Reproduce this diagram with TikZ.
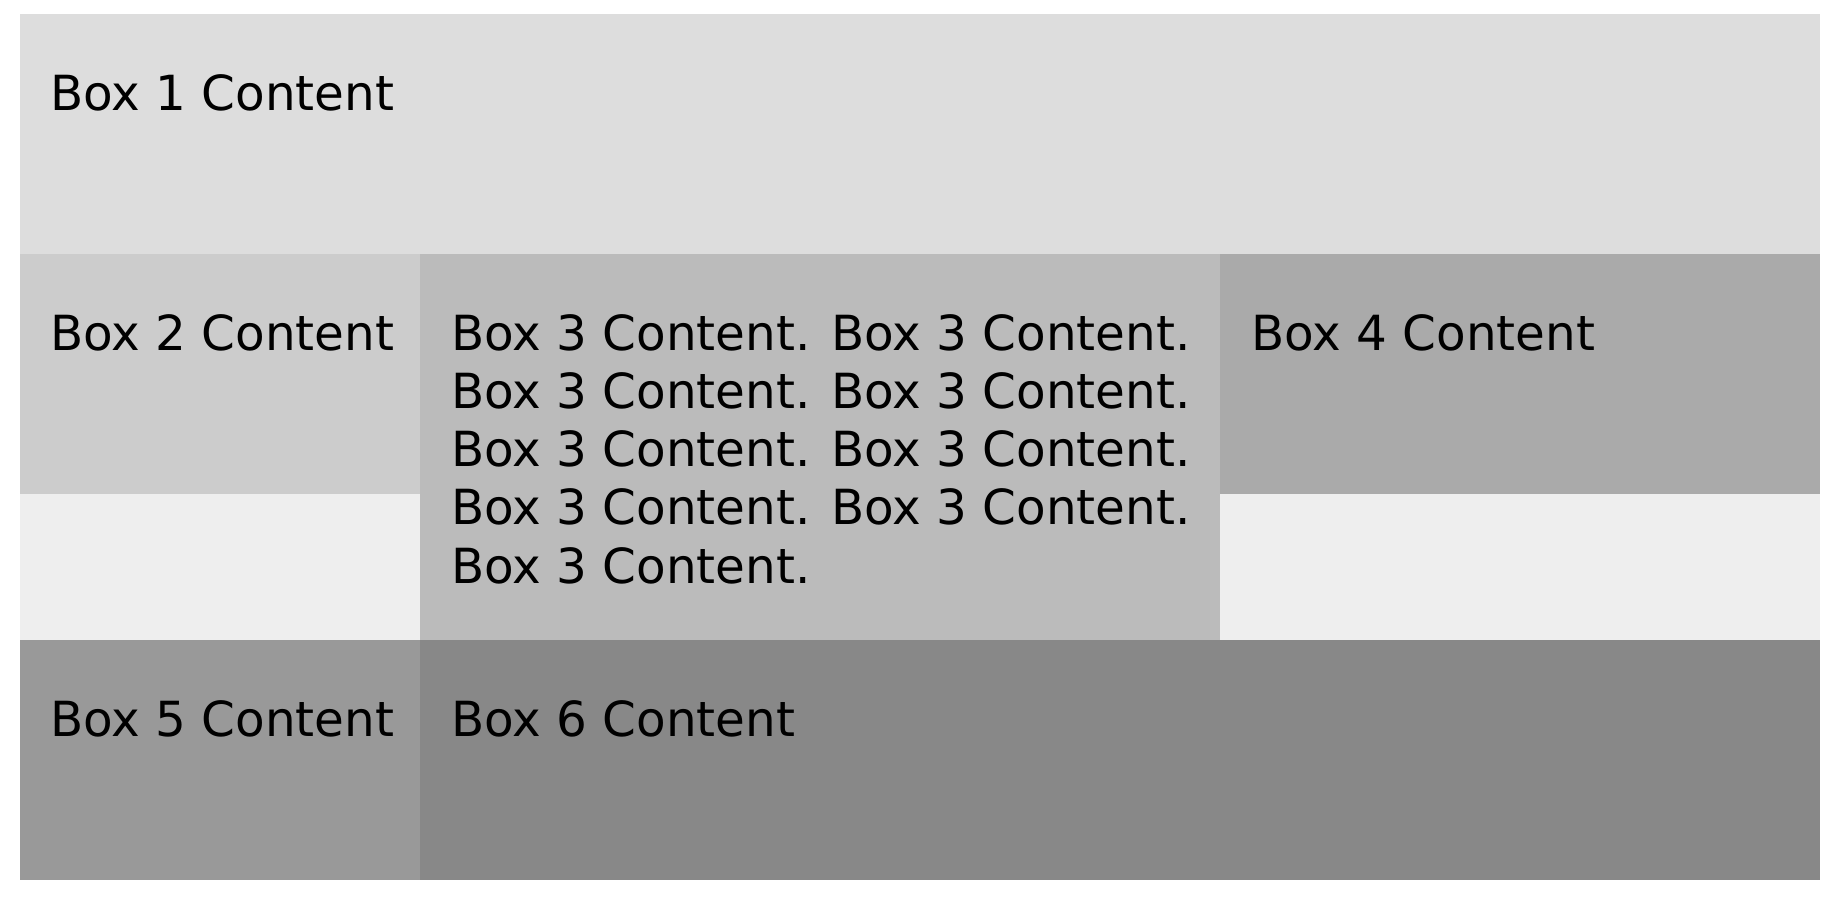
\documentclass[tikz,border=0pt]{standalone}
\usepackage{fontspec}
\setmainfont{DejaVu Sans}
\definecolor{cA}{HTML}{DDDDDD}
\definecolor{cB}{HTML}{CCCCCC}
\definecolor{cC}{HTML}{BBBBBB}
\definecolor{cD}{HTML}{AAAAAA}
\definecolor{cE}{HTML}{999999}
\definecolor{cF}{HTML}{888888}
\definecolor{cG}{HTML}{EEEEEE}
\begin{document}
\begin{tikzpicture}[x=0.5pt,y=-0.5pt,
  boxtext/.style={anchor=base west,inner sep=0pt,text=black,font=\fontsize{24.2}{29.15}\selectfont}]
\useasboundingbox[fill=white] (0,0) rectangle (1844,902);
% grid background
\fill[cG] (20,254) rectangle (1820,640);
% boxes
\fill[cA] (20,14) rectangle (1820,254);
\fill[cB] (20,254) rectangle (420,494);
\fill[cC] (420,254) rectangle (1220,640);
\fill[cD] (1220,254) rectangle (1820,494);
\fill[cE] (20,640) rectangle (420,880);
\fill[cF] (420,640) rectangle (1820,880);
% texts
\node[boxtext] (t1) at (50,110) {Box 1 Content};
\node[boxtext] (t2) at (50,350) {Box 2 Content};
\node[boxtext] (t3) at (451,350) {\parbox[t]{385pt}{\raggedright\fontsize{24.2}{29.15}\selectfont
Box 3 Content. Box 3 Content.\\
Box 3 Content. Box 3 Content.\\
Box 3 Content. Box 3 Content.\\
Box 3 Content. Box 3 Content.\\
Box 3 Content.}};
\node[boxtext] (t4) at (1251,350) {Box 4 Content};
\node[boxtext] (t5) at (50,736) {Box 5 Content};
\node[boxtext] (t6) at (451,736) {Box 6 Content};
\end{tikzpicture}
\end{document}
